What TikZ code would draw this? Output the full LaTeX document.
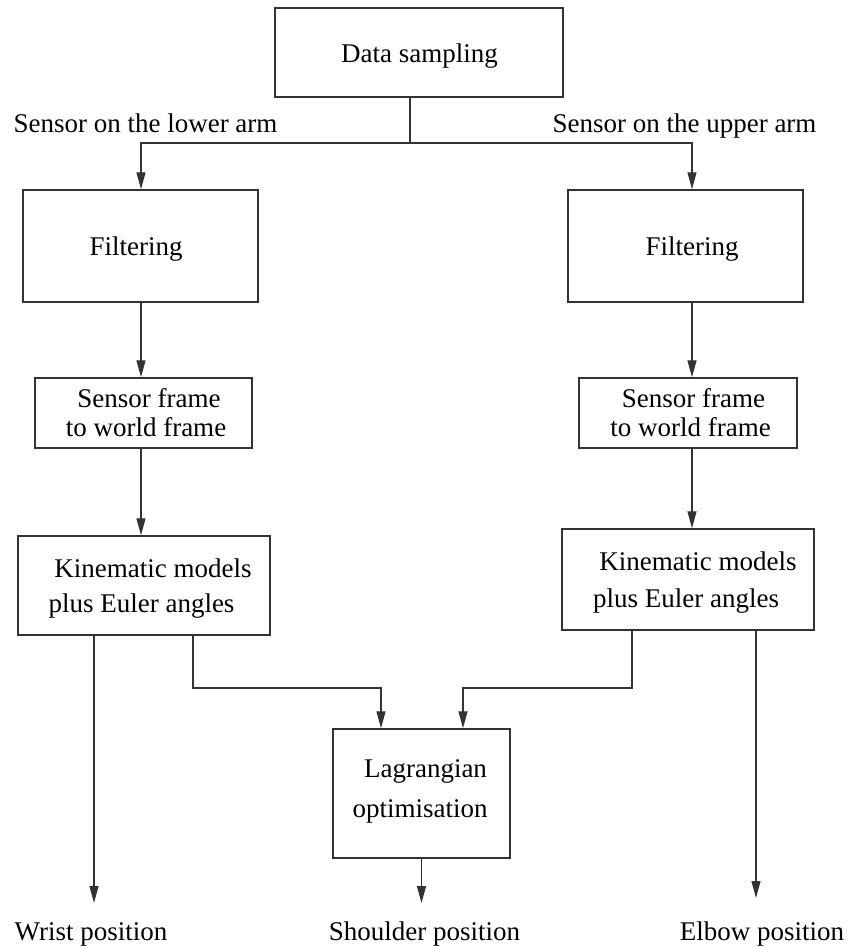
\documentclass[tikz,border=0pt]{standalone}
\usepackage{fontspec}
\setmainfont{Liberation Serif}
\usetikzlibrary{arrows.meta}
\tikzset{
  box/.style={draw=black!80, line width=1.5pt, rectangle, inner sep=0pt},
  txt/.style={anchor=base, inner sep=0pt, font=\fontsize{27}{32}\selectfont},
  conn/.style={draw=black!80, line width=1.3pt},
  arr/.style={conn, -{Triangle[length=17pt,width=9pt]}}
}
\begin{document}
\begin{tikzpicture}[x=1pt,y=-1pt]
\useasboundingbox (0,0) rectangle (847,947);
% boxes
\node[box, minimum width=288pt, minimum height=89pt]  (ds) at (419,52.5) {};
\node[box, minimum width=235pt, minimum height=112pt] (fl) at (140.5,246) {};
\node[box, minimum width=235pt, minimum height=112pt] (fr) at (685.5,246) {};
\node[box, minimum width=217pt, minimum height=70pt]  (sl) at (143.5,413) {};
\node[box, minimum width=218pt, minimum height=70pt]  (sr) at (688,413) {};
\node[box, minimum width=252pt, minimum height=99pt]  (kl) at (144,585.5) {};
\node[box, minimum width=252pt, minimum height=101pt] (kr) at (688,579.5) {};
\node[box, minimum width=177pt, minimum height=129pt] (lg) at (421.5,793.5) {};
% texts
\node[txt] (tds) at (419.5,63) {Data sampling};
\node[txt] (tlow) at (145.5,132) {Sensor on the lower arm};
\node[txt] (tup) at (684.5,132) {Sensor on the upper arm};
\node[txt] (tfl) at (136,255) {Filtering};
\node[txt] (tfr) at (692,255) {Filtering};
\node[txt] (tsl1) at (149,407) {Sensor frame};
\node[txt] (tsl2) at (146,436) {to world frame};
\node[txt] (tsr1) at (693.5,407) {Sensor frame};
\node[txt] (tsr2) at (690.5,436) {to world frame};
\node[txt] (tkl1) at (153,577) {Kinematic models};
\node[txt] (tkl2) at (141.5,612) {plus Euler angles};
\node[txt] (tkr1) at (698,570) {Kinematic models};
\node[txt] (tkr2) at (686,607) {plus Euler angles};
\node[txt] (tlg1) at (425.5,777) {Lagrangian};
\node[txt] (tlg2) at (420,817) {optimisation};
\node[txt] (wrist) at (91,940) {Wrist position};
\node[txt] (shoulder) at (424.5,940) {Shoulder position};
\node[txt] (elbow) at (762,940) {Elbow position};
% lane coordinates
\coordinate (split) at (410,143);
\coordinate (laneL) at (141,0);
\coordinate (laneR) at (692,0);
\coordinate (kla) at (193,688);
\coordinate (kra) at (632,688);
\coordinate (lgl) at (381,0);
\coordinate (lgr) at (463,0);
\coordinate (wristtip) at (94,903);
\coordinate (elbowtip) at (756,898);
\coordinate (shouldertip) at (421.5,903);
% connectors
\draw[conn] (split |- ds.south) -- (split);
\draw[arr] (split) -| (laneL |- fl.north);
\draw[arr] (split) -| (laneR |- fr.north);
\draw[arr] (laneL |- fl.south) -- (laneL |- sl.north);
\draw[arr] (laneR |- fr.south) -- (laneR |- sr.north);
\draw[arr] (laneL |- sl.south) -- (laneL |- kl.north);
\draw[arr] (laneR |- sr.south) -- (laneR |- kr.north);
\draw[arr] (wristtip |- kl.south) -- (wristtip);
\draw[arr] (kla |- kl.south) -- (kla) -| (lgl |- lg.north);
\draw[arr] (kra |- kr.south) -- (kra) -| (lgr |- lg.north);
\draw[arr] (elbowtip |- kr.south) -- (elbowtip);
\draw[arr] (lg.south) -- (shouldertip);
\end{tikzpicture}
\end{document}
